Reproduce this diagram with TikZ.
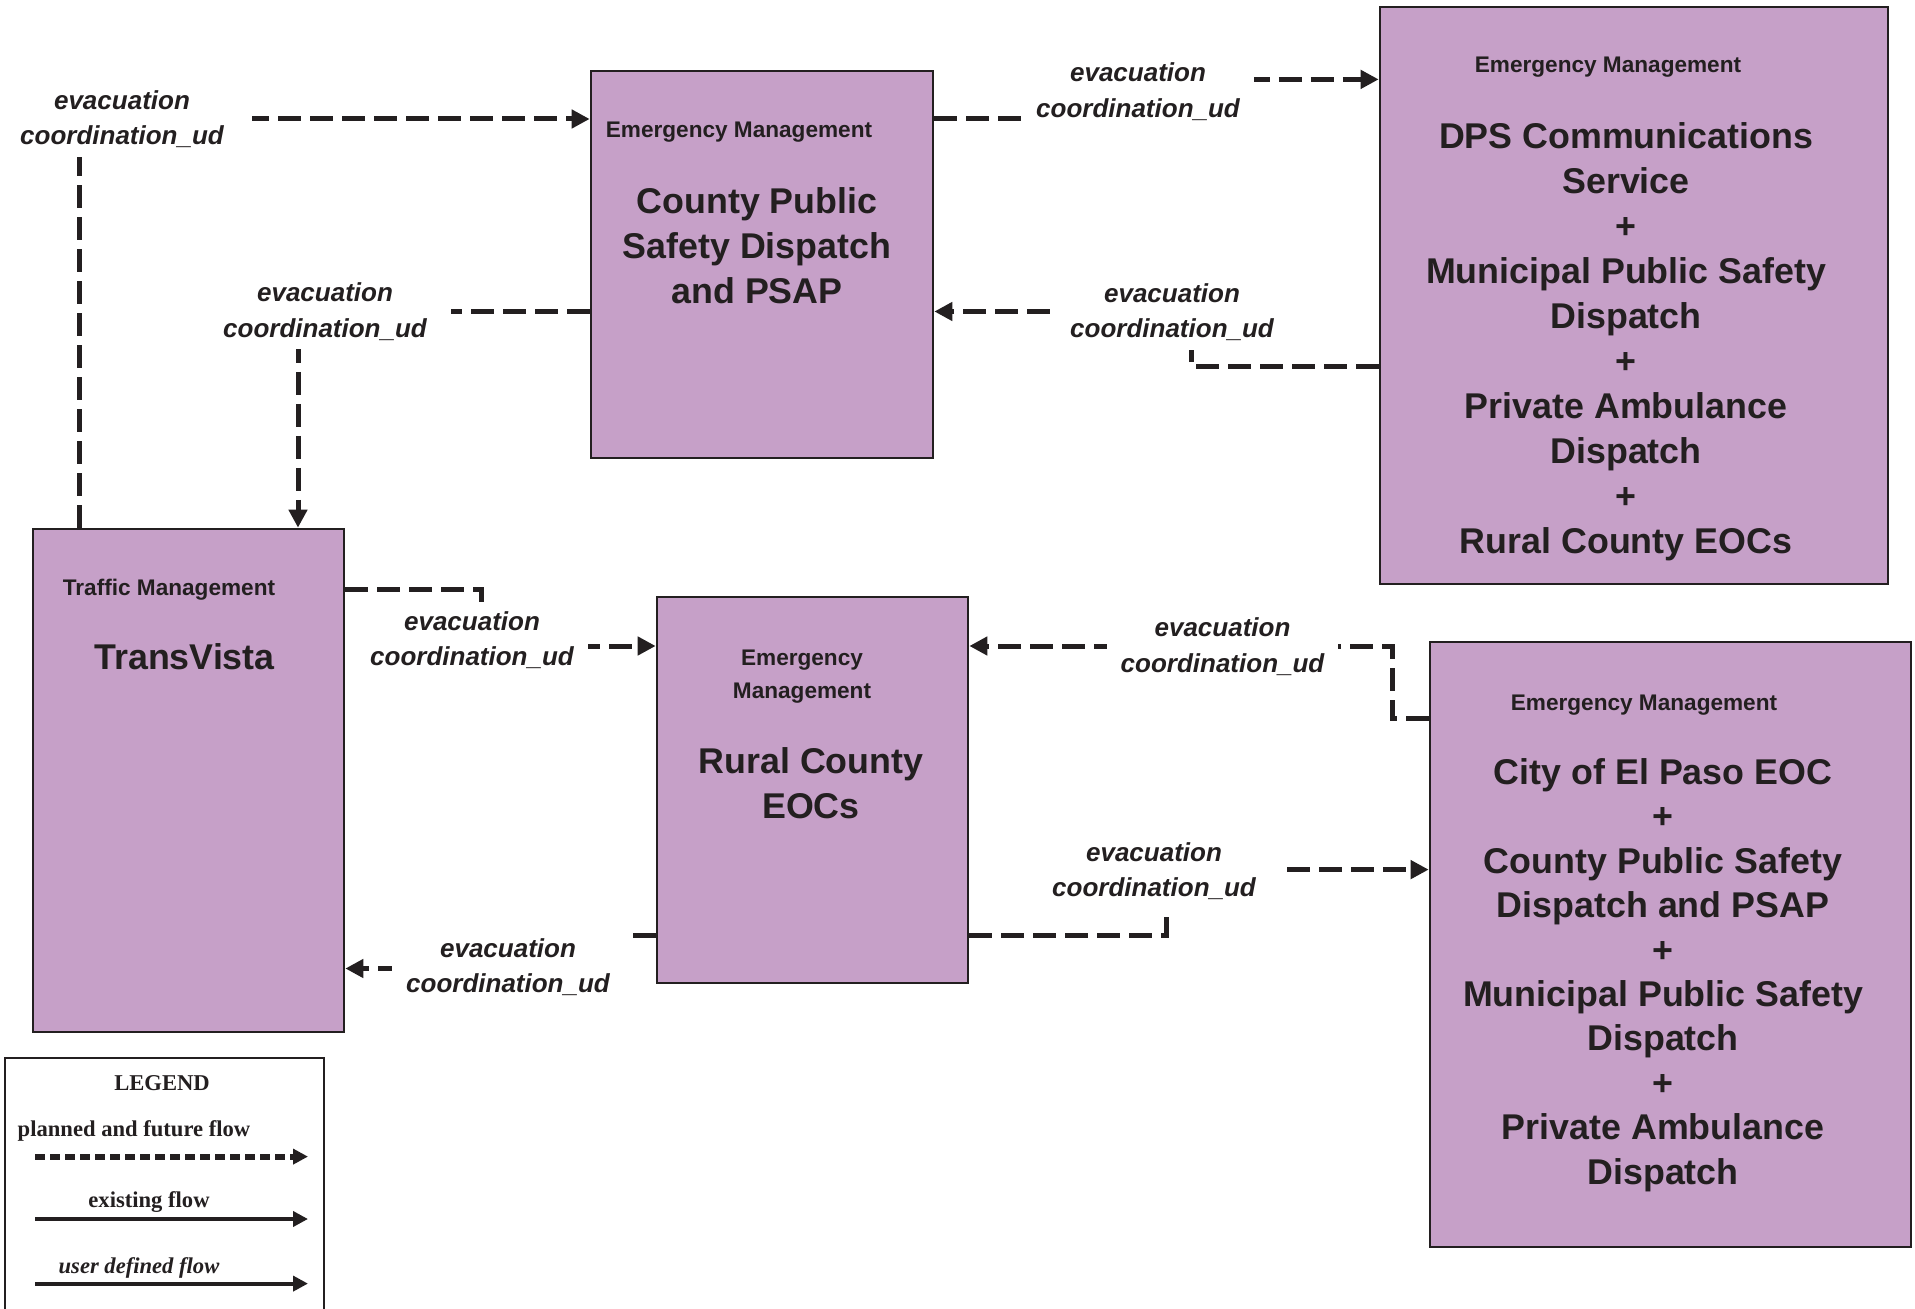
\documentclass[tikz,border=0pt]{standalone}
\usepackage{fontspec}
\setmainfont{Liberation Sans}
\newfontfamily\legendfont{Liberation Serif}
\usetikzlibrary{arrows.meta,calc,positioning}
\definecolor{boxfill}{RGB}{198,160,200}
\definecolor{ink}{RGB}{35,31,32}
\tikzset{
  sysbox/.style={draw=ink, line width=1.35pt, fill=boxfill, inner sep=0pt},
  hdr/.style={font=\fontsize{11.3}{16.5}\selectfont\bfseries, align=center, text=ink},
  ttl/.style={font=\fontsize{17.9}{22.5}\selectfont\bfseries, align=center, text=ink},
  lbl/.style={font=\fontsize{13}{17.7}\selectfont\bfseries\itshape, align=center, text=ink, fill=white, inner xsep=7pt, inner ysep=4.5pt},
  flow/.style={draw=ink, line width=2.5pt, dash pattern=on 11.5pt off 4.5pt},
  lgd/.style={font=\legendfont\bfseries\fontsize{11.3}{13}\selectfont, text=ink},
}
\begin{document}
\begin{tikzpicture}[x=0.5pt, y=-0.5pt, >={Triangle[length=9pt,width=9pt]}]
\fill[white] (0,0) rectangle (1915,1309);
\useasboundingbox (0,0) rectangle (1915,1309);
% systems
\node[sysbox, minimum width=171pt, minimum height=193.5pt] (psap) at (762,264.5) {};
\node[sysbox, minimum width=254pt, minimum height=288.5pt] (dps) at (1634,295.5) {};
\node[sysbox, minimum width=155.5pt, minimum height=251.5pt] (tv) at (188.5,780.5) {};
\node[sysbox, minimum width=155.5pt, minimum height=193pt] (rural) at (812.5,790) {};
\node[sysbox, minimum width=240.5pt, minimum height=302.5pt] (elpaso) at (1670.5,944.5) {};
% system texts
\node[hdr] at (739,132) {Emergency Management};
\node[ttl] at (757,245.5) {County Public\\Safety Dispatch\\and PSAP};
\node[hdr] at (1608,67.2) {Emergency Management};
\node[ttl] at (1626,341.5) {DPS Communications\\Service\\+\\Municipal Public Safety\\Dispatch\\+\\Private Ambulance\\Dispatch\\+\\Rural County EOCs};
\node[hdr] at (169,590) {Traffic Management};
\node[ttl] at (184.5,657) {TransVista};
\node[hdr] at (802,677) {Emergency\\Management};
\node[ttl] at (811,783.5) {Rural County\\EOCs};
\node[hdr] at (1644,705.5) {Emergency Management};
\node[ttl, font=\fontsize{17.9}{22.2}\selectfont\bfseries] at (1663,975) {City of El Paso EOC\\+\\County Public Safety\\Dispatch and PSAP\\+\\Municipal Public Safety\\Dispatch\\+\\Private Ambulance\\Dispatch};
% bends
\coordinate (c1) at (79,119);
\coordinate (c2) at (298,311.5);
\coordinate (c3) at (1150,79.4);
\coordinate (c4) at (1191,366.4);
\coordinate (c5) at (481,590);
\coordinate (c5b) at (481,646);
\coordinate (c6) at (540,935.5);
\coordinate (c6b) at (540,968.5);
\coordinate (c7) at (1392,718);
\coordinate (c7b) at (1392,646);
\coordinate (c8) at (1166,935.5);
\coordinate (c8b) at (1166,869.6);
% flows
\draw[flow,->] (tv.north -| c1) |- (psap.west |- c1);
\draw[flow,->] (psap.west |- c2) -| (tv.north -| c2);
\draw[flow,->] (psap.east |- c1) -| (c3) -- (dps.west |- c3);
\draw[flow,->] (dps.west |- c4) -- (c4) |- (psap.east |- c2);
\draw[flow,->] (tv.east |- c5) -- (c5) -- (c5b) -- (rural.west |- c5b);
\draw[flow,->] (rural.west |- c6) -- (c6) -- (c6b) -- (tv.east |- c6b);
\draw[flow,->] (elpaso.west |- c7) -- (c7) -- (c7b) -- (rural.east |- c7b);
\draw[flow,->] (rural.east |- c8) -- (c8) -- (c8b) -- (elpaso.west |- c8b);
% flow labels
\node[lbl, inner xsep=14pt] at (122,119) {evacuation\\coordination\_ud};
\node[lbl, inner xsep=12pt] at (325,311.5) {evacuation\\coordination\_ud};
\node[lbl] at (1138,91.5) {evacuation\\coordination\_ud};
\node[lbl] at (1172,312) {evacuation\\coordination\_ud};
\node[lbl] at (472,640) {evacuation\\coordination\_ud};
\node[lbl] at (508,967) {evacuation\\coordination\_ud};
\node[lbl] at (1222.5,646.6) {evacuation\\coordination\_ud};
\node[lbl, inner xsep=12pt] at (1154,871) {evacuation\\coordination\_ud};
% legend
\draw[ink, line width=1.25pt] (5,1058) rectangle (324,1340);
\node[lgd] (lgtitle) at (162,1083) {LEGEND};
\node[lgd] (lgplan) at (134,1131) {planned and future flow};
\node[lgd] (lgexist) at (149,1202) {existing flow};
\node[lgd, font=\legendfont\bfseries\itshape\fontsize{11.3}{13}\selectfont] (lguser) at (139,1268) {user defined flow};
\draw[ink, line width=3pt, dash pattern=on 5pt off 2.5pt, -{Triangle[length=7.5pt,width=7.5pt]}] (35,1156.6) -- (308,1156.6);
\draw[ink, line width=2pt, -{Triangle[length=7.5pt,width=7.5pt]}] (35,1219) -- (308,1219);
\draw[ink, line width=2pt, -{Triangle[length=7.5pt,width=7.5pt]}] (35,1283.6) -- (308,1283.6);
\end{tikzpicture}
\end{document}
